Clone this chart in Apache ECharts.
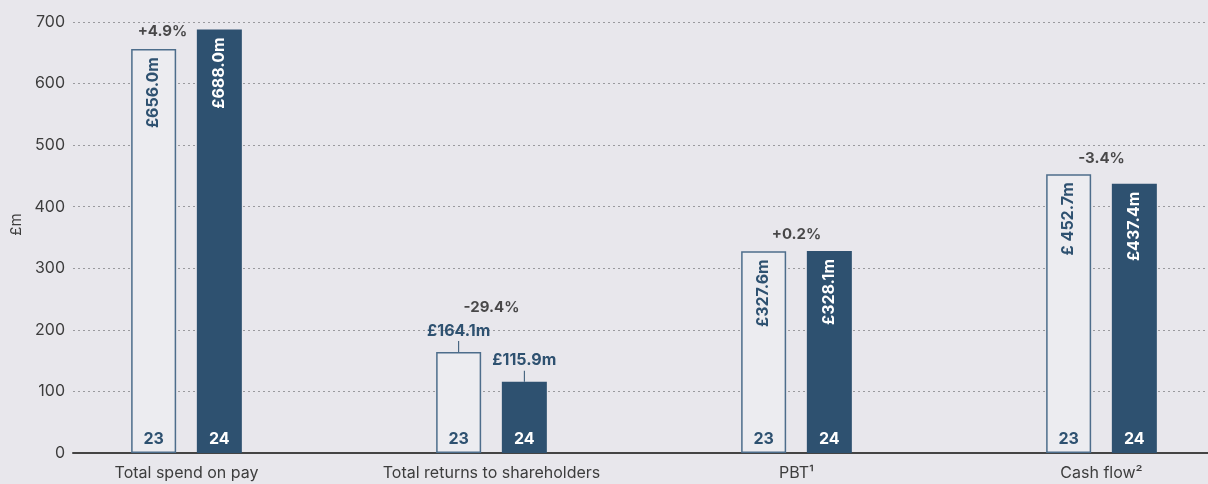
<!DOCTYPE html>
<html>
<head>
<meta charset="utf-8">
<script src="https://cdn.jsdelivr.net/npm/echarts@6/dist/echarts.min.js"></script>
<style>
  html, body { margin: 0; padding: 0; background: #e8e7ec; }
  #main { width: 1208px; height: 484px; }
</style>
</head>
<body>
<div id="main"></div>
<script>
// figures
const categories = ['Total spend on pay', 'Total returns to shareholders', 'PBT¹', 'Cash flow²']
const values23 = [656.0, 164.1, 327.6, 452.7]
const values24 = [688.0, 115.9, 328.1, 437.4]
const labels23 = ['£656.0m', '£164.1m', '£327.6m', '£ 452.7m']
const labels24 = ['£688.0m', '£115.9m', '£328.1m', '£437.4m']
const changes = ['+4.9%', '-29.4%', '+0.2%', '-3.4%']
const yTicks = [0, 100, 200, 300, 400, 500, 600, 700]

const navy = '#2e5170'
const font = 'Inter, Roboto, sans-serif'
// group 2 has labels above bars with a small leader line
const outside = [false, true, false, false]
const changeOffset = [[-24, 10], [0, -37], [0, -9], [0, -8]]

function valueLabel (text, i, dark) {
  if (outside[i]) {
    return {
      show: true,
      position: 'top',
      distance: 0,
      formatter: '{v|' + text + '}\n{l|}',
      rich: {
        v: { fontFamily: font, fontSize: 16, fontWeight: 'bold', color: navy, lineHeight: 20 },
        l: { width: 1, height: 11, backgroundColor: navy }
      }
    }
  }
  return {
    show: true,
    position: 'insideTop',
    distance: 8,
    rotate: 90,
    align: 'right',
    verticalAlign: 'middle',
    formatter: text,
    fontFamily: font,
    fontSize: 16,
    fontWeight: 'bold',
    color: dark ? '#ffffff' : navy
  }
}

const barW = 45
const yAxisCommon = {
  type: 'value',
  min: 0,
  max: 700,
  interval: 100
}

let myChart = echarts.init(document.getElementById('main'))
let options = {
  backgroundColor: '#e8e7ec',
  animation: false,
  grid: [
    { left: 73, right: 0, top: 22, bottom: 31, outerBoundsMode: 'none' },
    { left: 34, width: 1220, top: 22, bottom: 31, outerBoundsMode: 'none' }
  ],
  xAxis: [
    {
      gridIndex: 0, type: 'category', data: categories,
      axisLine: { show: true, lineStyle: { color: '#444444', width: 2 } },
      axisTick: { show: false }, axisLabel: { show: false }
    },
    {
      gridIndex: 1, type: 'category', data: categories,
      axisLine: { show: false }, axisTick: { show: false },
      axisLabel: { fontFamily: font, fontSize: 16, color: '#3d3d3d', margin: 12 }
    },
    {
      gridIndex: 1, type: 'category', data: categories, show: false
    }
  ],
  yAxis: [
    Object.assign({}, yAxisCommon, {
      gridIndex: 0,
      name: '£m',
      nameLocation: 'middle',
      nameGap: 48,
      nameTextStyle: { fontFamily: font, fontSize: 15, color: '#3d3d3d', padding: [0, 0, 0, 26] },
      axisLine: { show: false },
      axisTick: { show: false },
      axisLabel: {
        fontFamily: font, fontSize: 16, color: '#3d3d3d', margin: 8,
        customValues: yTicks
      },
      splitLine: { lineStyle: { color: '#9a9a9e', type: [2, 3], width: 1 } }
    }),
    Object.assign({}, yAxisCommon, { gridIndex: 1, show: false }),
    Object.assign({}, yAxisCommon, { gridIndex: 1, show: false })
  ],
  series: [
    {
      name: '23', type: 'bar', xAxisIndex: 1, yAxisIndex: 1,
      barWidth: barW, barGap: '46%', z: 3,
      itemStyle: { color: '#ececf0', borderColor: '#4d6d8b', borderWidth: 1.5 },
      data: values23.map((v, i) => ({ value: v, label: valueLabel(labels23[i], i, false) }))
    },
    {
      name: '24', type: 'bar', xAxisIndex: 1, yAxisIndex: 1,
      barWidth: barW, barGap: '46%', z: 3,
      itemStyle: { color: navy },
      data: values24.map((v, i) => ({ value: v, label: valueLabel(labels24[i], i, true) }))
    },
    {
      name: 'y23', type: 'bar', xAxisIndex: 2, yAxisIndex: 2,
      barWidth: barW, barGap: '46%', z: 4,
      itemStyle: { color: 'transparent' },
      label: {
        show: true, position: 'insideBottom', distance: 6, formatter: '23',
        fontFamily: font, fontSize: 16, fontWeight: 'bold', color: navy
      },
      data: values23
    },
    {
      name: 'y24', type: 'bar', xAxisIndex: 2, yAxisIndex: 2,
      barWidth: barW, barGap: '46%', z: 4,
      itemStyle: { color: 'transparent' },
      label: {
        show: true, position: 'insideBottom', distance: 6, formatter: '24',
        fontFamily: font, fontSize: 16, fontWeight: 'bold', color: '#ffffff'
      },
      data: values24
    },
    {
      name: 'change', type: 'scatter', xAxisIndex: 2, yAxisIndex: 2,
      symbolSize: 0, z: 5,
      data: changes.map((c, i) => ({
        value: [i, Math.max(values23[i], values24[i])],
        label: {
          show: true, position: 'top', distance: 0,
          offset: changeOffset[i],
          formatter: c,
          fontFamily: font, fontSize: 15, fontWeight: 'bold', color: '#1f1f1f'
        }
      }))
    }
  ]
}
myChart.setOption(options)
</script>
</body>
</html>
